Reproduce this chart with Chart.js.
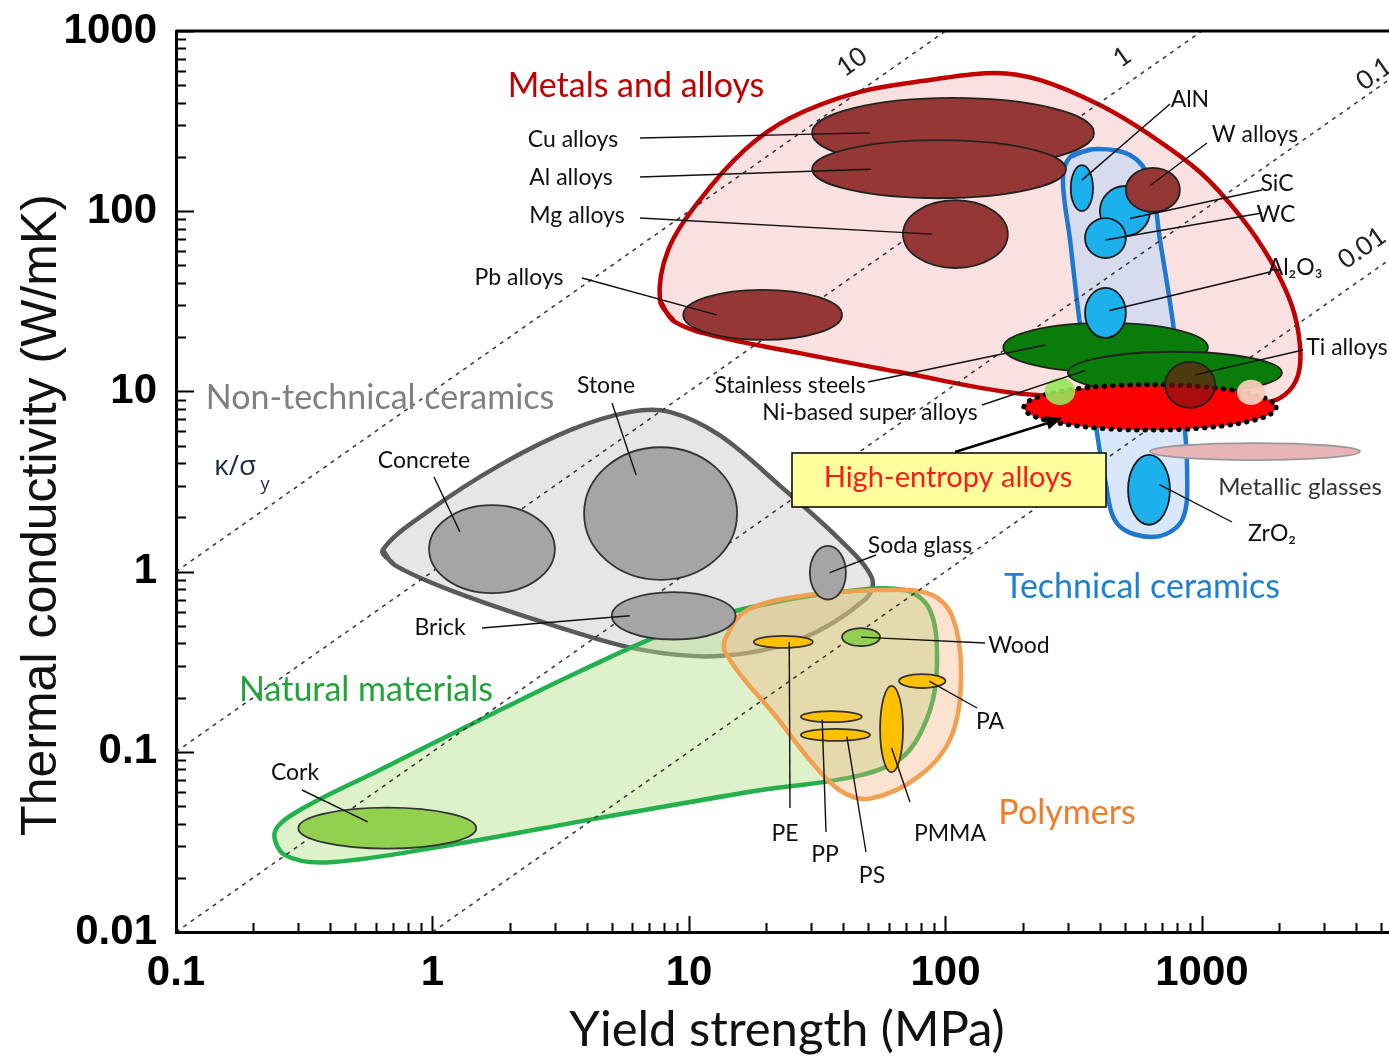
<!DOCTYPE html>
<html>
<head>
<meta charset="utf-8">
<script src="https://cdn.jsdelivr.net/npm/chart.js@4.4.1/dist/chart.umd.min.js"></script>
<style>
  body { margin: 0; background: #fff; }
  #grafico { display: block; }
</style>
</head>
<body>
<canvas id="grafico" width="1389" height="1062"></canvas>
<script>
// Eixos (log-log)
const valoresX = [0.1, 1, 10, 100, 1000];
const rotulosX = ['0.1', '1', '10', '100', '1000'];
const valoresY = [0.01, 0.1, 1, 10, 100, 1000];
const rotulosY = ['0.01', '0.1', '1', '10', '100', '1000'];

// Envoltórias das famílias: [tensão de escoamento (MPa), condutividade (W/mK)]
const envNaoTecnicas = [[0.64, 1.32], [0.98, 2.2], [1.83, 3.9], [3.44, 6.1], [5.9, 7.7], [8.4, 7.7], [13.2, 5.7], [22.6, 3.0], [38.8, 1.5], [51.7, 0.92], [48.6, 0.7], [27, 0.42], [13.2, 0.34], [6.4, 0.37], [2.87, 0.51], [1.17, 0.79], [0.71, 1.09]];
const envNaturais = [[4.5, 0.043], [1.17, 0.0304], [0.4, 0.0244], [0.266, 0.0267], [0.243, 0.036], [0.304, 0.0475], [0.62, 0.079], [1.53, 0.15], [3.76, 0.28], [9.2, 0.49], [18.9, 0.65], [38.8, 0.77], [69.5, 0.79], [87, 0.61], [92.7, 0.32], [87, 0.17], [69.5, 0.096], [46.4, 0.074], [17.3, 0.06]];
const envPolimeros = [[13.8, 0.42], [16.5, 0.6], [27, 0.73], [55.6, 0.79], [87, 0.75], [106, 0.57], [115, 0.28], [106, 0.124], [79.6, 0.074], [50.8, 0.055], [38.8, 0.061], [29.6, 0.09], [21.6, 0.16], [15.8, 0.27], [13.7, 0.37]];
const envMetais = [[7.7, 32], [8.3, 61], [11, 115], [16.5, 219], [24.8, 329], [46, 458], [87, 535], [156, 585], [233, 535], [400, 388], [627, 265], [982, 165], [1400, 95], [1840, 54], [2240, 30], [2410, 18], [2370, 12.3], [2110, 9.6], [1760, 8.7], [213, 9.6], [66, 12.8], [27, 16.3], [13.2, 20], [8.8, 24.3]];
const envTecnicas = [[376, 221], [524, 205], [627, 149], [686, 69], [771, 24], [836, 9.0], [875, 3.66], [836, 1.93], [656, 1.56], [471, 1.82], [419, 3.22], [383, 6.9], [334, 24], [306, 69], [287, 149], [306, 200]];

// Linhas de razão κ/σy
const razoes = ['10', '1', '0.1', '0.01'];
const razaoInicio = [[0.1, 1], [0.1, 0.1], [0.1, 0.01], [1, 0.01]];
const razaoFim = [[100, 1000], [1000, 1000], [10000, 1000], [100000, 1000]];

// Materiais: [nome, σ min, σ max, κ min, κ max]
const elipses = [
  ['Stone', 3.9, 15.4, 0.9, 4.9],
  ['Concrete', 0.97, 3.0, 0.76, 2.34],
  ['Brick', 5.0, 15.2, 0.42, 0.77],
  ['Soda glass', 29.6, 40.9, 0.7, 1.39],
  ['Cork', 0.3, 1.48, 0.029, 0.049],
  ['Wood', 39.5, 55.6, 0.386, 0.486],
  ['PE', 17.9, 30.4, 0.377, 0.44],
  ['PP', 27.3, 47.2, 0.146, 0.168],
  ['PS', 27.3, 50.8, 0.115, 0.134],
  ['PA', 65.9, 100, 0.226, 0.27],
  ['PMMA', 55.6, 68.3, 0.077, 0.232],
  ['Cu alloys', 30.2, 379, 174, 425],
  ['Al alloys', 30.2, 295, 118, 248],
  ['Mg alloys', 68.3, 175, 48.4, 115],
  ['Pb alloys', 9.5, 39.5, 19.3, 36.6],
  ['Stainless steels', 168, 1055, 12.8, 24],
  ['Ti alloys', 300, 2050, 9.7, 16.6],
  ['HEA', 202, 1945, 6.1, 10.9],
  ['HEA a', 244, 320, 8.4, 11.9],
  ['HEA b', 718, 1125, 8.1, 14.6],
  ['HEA c', 1370, 1762, 8.4, 11.6],
  ['SiC', 400, 627, 72.8, 138],
  ['W alloys', 505, 820, 99, 174],
  ['WC', 350, 505, 55, 91.6],
  ['AlN', 308, 376, 100, 180],
  ['Al2O3', 350, 505, 19.8, 37.5],
  ['Metallic glasses', 627, 4130, 4.16, 5.17],
  ['ZrO2', 515, 750, 1.82, 4.44]
];

const estiloElipse = {
  'Stone': 'cinza', 'Concrete': 'cinza', 'Brick': 'cinza', 'Soda glass': 'cinza',
  'Cork': 'verdeClaro', 'Wood': 'verdeClaro',
  'PE': 'amarelo', 'PP': 'amarelo', 'PS': 'amarelo', 'PA': 'amarelo', 'PMMA': 'amarelo',
  'Cu alloys': 'metal', 'Al alloys': 'metal', 'Mg alloys': 'metal', 'Pb alloys': 'metal', 'W alloys': 'metal',
  'Stainless steels': 'verde', 'Ti alloys': 'verde',
  'HEA': 'hea', 'HEA a': 'heaVerde', 'HEA b': 'heaEscuro', 'HEA c': 'heaRosa',
  'SiC': 'azul', 'WC': 'azul', 'AlN': 'azul', 'Al2O3': 'azul', 'ZrO2': 'azul',
  'Metallic glasses': 'rosa'
};

const cores = {
  cinza: ['#a5a5a5', '#333'],
  verdeClaro: ['#92d050', '#333'],
  amarelo: ['#ffc000', '#333'],
  metal: ['#953735', '#222'],
  verde: ['#0a7c0a', '#222'],
  hea: ['#ff0000', null],
  heaVerde: ['rgba(150,230,90,0.9)', null],
  heaEscuro: ['rgba(120,20,20,0.62)', '#222'],
  heaRosa: ['rgba(245,205,185,0.95)', null],
  azul: ['#1cb1ec', '#1a1a1a'],
  rosa: ['#e8b4b8', '#999']
};

// Rótulos com linha de chamada: texto, posição do texto, início da linha, material, posição relativa na elipse
const chamadas = [
  ['Cu alloys', 573, 140, 640, 138, 'Cu alloys', -0.59, 0],
  ['Al alloys', 571, 178, 640, 177, 'Al alloys', -0.54, 0],
  ['Mg alloys', 577, 216, 640, 218, 'Mg alloys', -0.45, 0],
  ['Pb alloys', 519, 278, 582, 278, 'Pb alloys', -0.58, 0],
  ['AlN', 1190, 100, 1170, 104, 'AlN', 0, -0.35],
  ['W alloys', 1255, 135, 1207, 143, 'W alloys', -0.1, -0.2],
  ['SiC', 1277, 184, 1262, 190, 'SiC', 0.2, 0.3],
  ['WC', 1276, 215, 1262, 213, 'WC', 0, 0.1],
  ['Al₂O₃', 1295, 268, 1270, 272, 'Al2O3', 0.2, -0.1],
  ['Ti alloys', 1347, 348, 1303, 350, 'Ti alloys', 0.19, 0.1],
  ['Stainless steels', 790, 386, 868, 382, 'Stainless steels', -0.59, -0.1],
  ['Ni-based super alloys', 870, 413, 982, 405, 'Ti alloys', -0.84, -0.1],
  ['ZrO₂', 1272, 534, 1232, 522, 'ZrO2', 0.5, -0.15],
  ['Stone', 606, 386, 612, 403, 'Stone', -0.32, -0.58],
  ['Concrete', 424, 461, 434, 477, 'Concrete', -0.51, -0.39],
  ['Brick', 440, 628, 482, 628, 'Brick', -0.71, 0],
  ['Soda glass', 920, 546, 876, 555, 'Soda glass', 0.1, 0],
  ['Wood', 1019, 646, 985, 643, 'Wood', 0, 0],
  ['PA', 990, 722, 977, 708, 'PA', 0.3, 0],
  ['PE', 785, 834, 790, 808, 'PE', 0.2, 0],
  ['PP', 825, 855, 826, 832, 'PP', -0.3, 0.5],
  ['PS', 872, 876, 866, 852, 'PS', 0.33, 0.3],
  ['PMMA', 950, 834, 910, 802, 'PMMA', 0, 0.44],
  ['Cork', 295, 773, 302, 790, 'Cork', -0.22, -0.3]
];

// Nomes das famílias
const familias = [
  ['Metals and alloys', 636, 86, 34, '#c00000'],
  ['Non-technical ceramics', 380, 398, 34, '#808080'],
  ['Technical ceramics', 1142, 587, 34, '#1f7fd3'],
  ['Natural materials', 366, 690, 34, '#22a33a'],
  ['Polymers', 1067, 813, 34, '#ef7d2d'],
  ['Metallic glasses', 1300, 487, 24, '#333']
];

// posição dos números das linhas de razão
const rotuloRazao = [[852, 62], [1122, 57], [1374, 74], [1362, 248]];

function envoltoria(pts, fundo, borda, ordem) {
  const volta = [pts[pts.length - 1], ...pts, pts[0]];
  return {
    data: volta.map(p => ({ x: p[0], y: p[1] })),
    showLine: true,
    fill: 'shape',
    backgroundColor: fundo,
    borderColor: borda,
    borderWidth: 4.5,
    tension: 0.35,
    pointRadius: 0,
    order: ordem
  };
}

function texto(ctx, s, x, y, tam, cor, fonte) {
  ctx.font = tam + 'px ' + (fonte || 'Lato');
  ctx.fillStyle = cor;
  ctx.textAlign = 'center';
  ctx.textBaseline = 'middle';
  ctx.fillText(s, x, y);
}

const desenhoPlugin = {
  id: 'desenho',
  afterDatasetsDraw(chart) {
    const { ctx, chartArea, scales } = chart;
    const sx = scales.x, sy = scales.y;
    const geo = {};
    ctx.save();
    ctx.beginPath();
    ctx.rect(chartArea.left, chartArea.top, chartArea.right - chartArea.left, chartArea.bottom - chartArea.top);
    ctx.clip();
    elipses.forEach(([nome, x0, x1, y0, y1]) => {
      const a = sx.getPixelForValue(x0), b = sx.getPixelForValue(x1);
      const c = sy.getPixelForValue(y1), d = sy.getPixelForValue(y0);
      const g = { cx: (a + b) / 2, cy: (c + d) / 2, rx: (b - a) / 2, ry: (d - c) / 2 };
      geo[nome] = g;
      const [fundo, borda] = cores[estiloElipse[nome]];
      ctx.beginPath();
      ctx.ellipse(g.cx, g.cy, g.rx, g.ry, 0, 0, Math.PI * 2);
      ctx.fillStyle = fundo;
      ctx.fill();
      if (nome === 'HEA') {
        ctx.setLineDash([0.5, 8]);
        ctx.lineCap = 'round';
        ctx.lineWidth = 5;
        ctx.strokeStyle = '#000';
        ctx.stroke();
        ctx.setLineDash([]);
        ctx.lineCap = 'butt';
      } else if (borda) {
        ctx.lineWidth = 1.8;
        ctx.strokeStyle = borda;
        ctx.stroke();
      }
    });
    ctx.restore();
    chart.$geo = geo;
  },
  afterDraw(chart) {
    const { ctx, chartArea, scales } = chart;
    const sx = scales.x, sy = scales.y;
    const geo = chart.$geo || {};
    ctx.save();

    // linhas de chamada
    ctx.strokeStyle = '#111';
    ctx.lineWidth = 1.4;
    chamadas.forEach(([s, tx, ty, lx, ly, alvo, fx, fy]) => {
      const g = geo[alvo];
      ctx.beginPath();
      ctx.moveTo(lx, ly);
      ctx.lineTo(g.cx + fx * g.rx, g.cy + fy * g.ry);
      ctx.stroke();
    });
    chamadas.forEach(([s, tx, ty]) => texto(ctx, s, tx, ty, 23, '#111'));

    familias.forEach(([s, x, y, tam, cor]) => texto(ctx, s, x, y, tam, cor));

    // κ/σy
    texto(ctx, 'κ/σ', 235, 467, 28, '#1c2a4a', 'Open Sans');
    texto(ctx, 'y', 265, 485, 18, '#1c2a4a', 'Open Sans');

    // números das razões, inclinados como as linhas
    const ang = Math.atan2(sy.getPixelForValue(1000) - sy.getPixelForValue(100), sx.getPixelForValue(1000) - sx.getPixelForValue(100));
    razoes.forEach((r, i) => {
      ctx.save();
      ctx.translate(rotuloRazao[i][0], rotuloRazao[i][1]);
      ctx.rotate(ang);
      texto(ctx, r, 0, 0, 26, '#222');
      ctx.restore();
    });

    // caixa High-entropy alloys e seta
    ctx.beginPath();
    ctx.moveTo(955, 452);
    ctx.lineTo(1048, 423);
    ctx.lineWidth = 2.5;
    ctx.strokeStyle = '#000';
    ctx.stroke();
    ctx.save();
    ctx.translate(1062, 418);
    ctx.rotate(Math.atan2(418 - 452, 1062 - 955));
    ctx.beginPath();
    ctx.moveTo(0, 0);
    ctx.lineTo(-16, -7);
    ctx.lineTo(-16, 7);
    ctx.closePath();
    ctx.fillStyle = '#000';
    ctx.fill();
    ctx.restore();
    ctx.fillStyle = '#ffff9e';
    ctx.fillRect(792, 453, 314, 54);
    ctx.lineWidth = 1.5;
    ctx.strokeRect(792, 453, 314, 54);
    texto(ctx, 'High-entropy alloys', 948, 478, 29, '#ff1a1a');

    // marcas dos eixos, para dentro
    ctx.strokeStyle = '#000';
    ctx.lineWidth = 2;
    for (let e = -2; e <= 3; e++) {
      for (let m = 1; m <= 9; m++) {
        const v = m * Math.pow(10, e);
        if (v > sy.max * 1.0001) continue;
        const p = Math.round(sy.getPixelForValue(v)) + 0.5;
        const len = m === 1 ? 18 : 10;
        ctx.beginPath();
        ctx.moveTo(chartArea.left, p);
        ctx.lineTo(chartArea.left + len, p);
        ctx.stroke();
      }
    }
    for (let e = -1; e <= 3; e++) {
      for (let m = 1; m <= 9; m++) {
        const v = m * Math.pow(10, e);
        if (v > sx.max) continue;
        const p = Math.round(sx.getPixelForValue(v)) + 0.5;
        const len = m === 1 ? 16 : 9;
        ctx.beginPath();
        ctx.moveTo(p, chartArea.bottom);
        ctx.lineTo(p, chartArea.bottom - len);
        ctx.stroke();
      }
    }
    // moldura superior
    ctx.lineWidth = 3;
    ctx.beginPath();
    ctx.moveTo(chartArea.left, chartArea.top);
    ctx.lineTo(chartArea.right, chartArea.top);
    ctx.stroke();

    // títulos dos eixos
    ctx.save();
    ctx.translate(42, 515);
    ctx.rotate(-Math.PI / 2);
    texto(ctx, 'Thermal conductivity (W/mK)', 0, 0, 50, '#111', '"Liberation Sans"');
    ctx.restore();
    texto(ctx, 'Yield strength (MPa)', 787, 1030, 49, '#111');

    ctx.restore();
  }
};

const datasets = [
  envoltoria(envNaoTecnicas, '#e6e6e6', '#5a5a5a', 10),
  envoltoria(envNaturais, 'rgba(180,225,140,0.45)', '#22b14c', 9),
  envoltoria(envPolimeros, 'rgba(245,175,120,0.35)', '#f0a050', 8),
  envoltoria(envMetais, '#f9e1e1', '#c00000', 7),
  envoltoria(envTecnicas, 'rgba(190,215,245,0.6)', '#1e78cf', 6)
];
razaoInicio.forEach((p, i) => {
  datasets.push({
    data: [{ x: p[0], y: p[1] }, { x: razaoFim[i][0], y: razaoFim[i][1] }],
    showLine: true,
    fill: false,
    borderColor: '#333',
    borderWidth: 1.5,
    borderDash: [4, 5],
    pointRadius: 0,
    order: 1
  });
});

const ctx = document.getElementById('grafico').getContext('2d');
const chart = new Chart(ctx, {
  type: 'scatter',
  data: { datasets: datasets },
  options: {
    responsive: false,
    animation: false,
    devicePixelRatio: 1,
    layout: { padding: { top: 31, right: 0, left: 0, bottom: 0 } },
    plugins: { legend: { display: false }, tooltip: { enabled: false } },
    scales: {
      x: {
        type: 'logarithmic',
        min: 0.1,
        max: 5360,
        afterBuildTicks: s => { s.ticks = valoresX.map(v => ({ value: v })); },
        afterFit: s => { s.height = 130; s.paddingLeft = 0; s.paddingRight = 0; },
        grid: { display: false },
        border: { display: true, color: '#000', width: 3 },
        ticks: {
          autoSkip: false,
          maxRotation: 0,
          padding: 8,
          color: '#000',
          font: { family: 'Liberation Sans', size: 42, weight: 'bold' },
          callback: (v, i) => rotulosX[i]
        }
      },
      y: {
        type: 'logarithmic',
        min: 0.01,
        max: 1000,
        afterBuildTicks: s => { s.ticks = valoresY.map(v => ({ value: v })); },
        afterFit: s => { s.width = 176; s.paddingTop = 0; s.paddingBottom = 0; },
        grid: { display: false },
        border: { display: true, color: '#000', width: 3 },
        ticks: {
          autoSkip: false,
          padding: 11,
          color: '#000',
          font: { family: 'Liberation Sans', size: 42, weight: 'bold' },
          callback: (v, i) => rotulosY[i]
        }
      }
    }
  },
  plugins: [desenhoPlugin]
});
</script>
</body>
</html>
